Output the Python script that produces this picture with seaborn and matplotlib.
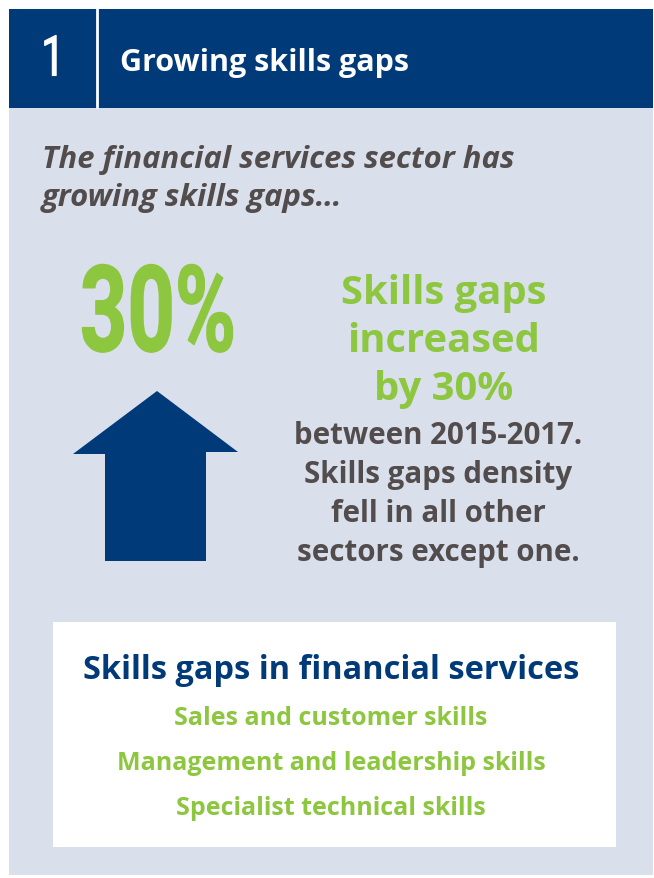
import matplotlib
matplotlib.use("Agg")
import matplotlib.pyplot as plt
from matplotlib.patches import Rectangle, Polygon
from matplotlib.patheffects import AbstractPathEffect
from matplotlib.transforms import Affine2D
import seaborn as sns

# ---- content ----
section_number = "1"
section_title = "Growing skills gaps"
intro_lines = ["The financial services sector has", "growing skills gaps\u2026"]
headline_value = "30%"
green_lines = ["Skills gaps", "increased", "by 30%"]
grey_lines = ["between 2015-2017.", "Skills gaps density", "fell in all other", "sectors except one."]
box_title = "Skills gaps in financial services"
box_items = ["Sales and customer skills", "Management and leadership skills", "Specialist technical skills"]

NAVY = "#003A78"
GREEN = "#8DC63F"
GREY = "#524C4C"
PANEL = "#D9DFEB"

sns.set_theme(style="white")
plt.rcParams['font.family'] = ['Open Sans', 'DejaVu Sans']

W, H = 654, 879
DPI = 100
fig = plt.figure(figsize=(W / DPI, H / DPI), dpi=DPI)
ax = fig.add_axes([0, 0, 1, 1])
ax.set_xlim(0, W)
ax.set_ylim(H, 0)
ax.axis("off")


def px(s):
    return s * 72 / DPI


class HScale(AbstractPathEffect):
    """Narrow the glyphs horizontally around a given display x (condensed look)."""
    def __init__(self, sx, cx, stroke=0.0):
        super().__init__()
        self.sx = sx
        self.cx = cx
        self.stroke = stroke

    def draw_path(self, renderer, gc, tpath, affine, rgbFace=None):
        aff = affine + Affine2D().translate(-self.cx, 0).scale(self.sx, 1).translate(self.cx, 0)
        if self.stroke > 0:
            gc0 = renderer.new_gc()
            gc0.copy_properties(gc)
            gc0.set_linewidth(self.stroke)
            gc0.set_foreground(rgbFace)
            renderer.draw_path(gc0, tpath, aff, rgbFace)
            gc0.restore()
        else:
            renderer.draw_path(gc, tpath, aff, rgbFace)


# panel and header
ax.add_patch(Rectangle((9, 108), 644, 768, color=PANEL, lw=0))
ax.add_patch(Rectangle((9, 10), 644, 99, color=NAVY, lw=0))
ax.plot([97, 97], [10, 108], color="white", lw=2)

ax.text(53, 61, section_number, color="white", fontsize=px(56), ha="center", va="center",
        family="Roboto", path_effects=[HScale(0.75, 53, stroke=0.8)])
ax.text(120, 63, section_title, color="white", fontsize=px(30.5), fontweight="bold", ha="left", va="center")

# intro
for i, t in enumerate(intro_lines):
    ax.text(42, 160 + i * 38, t, color=GREY, fontsize=px(31), fontweight="bold", fontstyle="italic",
            ha="left", va="center")

# big number
ax.text(158, 319, headline_value, color=GREEN, fontsize=px(120), fontweight="bold", ha="center", va="center",
        family="Roboto", path_effects=[HScale(0.69, 158, stroke=1.0)])

# arrow
arrow = [(157, 392), (238, 453), (206, 453), (206, 562), (105, 562), (105, 455), (73, 455)]
ax.add_patch(Polygon(arrow, closed=True, color=NAVY, lw=0))

# right text
for i, t in enumerate(green_lines):
    ax.text(444, 294 + i * 48, t, color=GREEN, fontsize=px(40), fontweight="bold", ha="center", va="center")
for i, t in enumerate(grey_lines):
    ax.text(438, 436 + i * 39, t, color=GREY, fontsize=px(29.5), fontweight="bold", ha="center", va="center")

# white box
ax.add_patch(Rectangle((53, 623), 563, 225, color="white", lw=0))
ax.text(331, 671, box_title, color=NAVY, fontsize=px(32.5), fontweight="bold", ha="center", va="center")
for i, t in enumerate(box_items):
    ax.text(331, 719 + i * 45, t, color=GREEN, fontsize=px(25), fontweight="bold", ha="center", va="center")

fig.savefig("out.png", dpi=DPI, facecolor="white")
